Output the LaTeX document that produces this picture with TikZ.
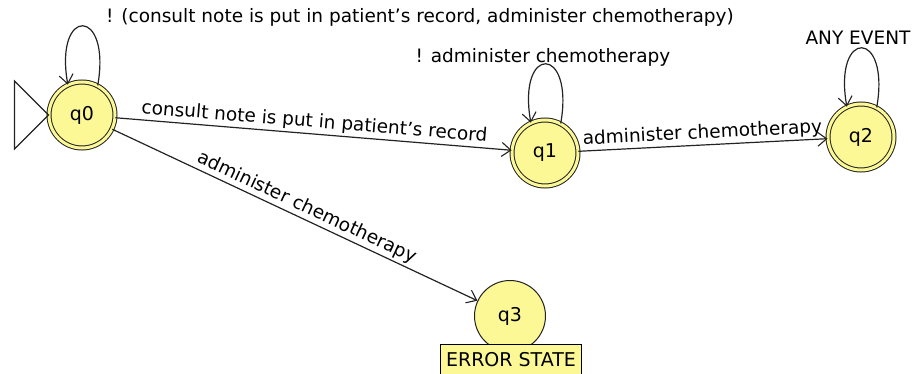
\documentclass[tikz,border=0pt]{standalone}
\usepackage{fontspec}
\setmainfont{DejaVu Sans}
\usetikzlibrary{arrows.meta}
\definecolor{stfill}{RGB}{252,248,150}
\definecolor{stline}{RGB}{35,35,35}
\tikzset{
  acc/.style={circle, draw=stline, line width=1pt, fill=stfill, double=stfill, double distance=3pt, minimum size=66pt, inner sep=0pt, font=\fontsize{19}{22}\selectfont},
  plainst/.style={circle, draw=stline, line width=1pt, fill=stfill, minimum size=71pt, inner sep=0pt, font=\fontsize{19}{22}\selectfont},
  lbl/.style={font=\fontsize{18.5}{22}\selectfont, inner sep=2pt},
  edge/.style={draw=stline, line width=1.2pt, -{Straight Barb[length=9pt,width=14pt,line width=1.1pt]}},
  errbox/.style={draw=black, line width=1pt, fill=stfill, font=\fontsize{19}{22}\selectfont, inner xsep=6pt, inner ysep=3pt, minimum height=30pt}
}
\begin{document}
\begin{tikzpicture}[x=1pt,y=-1pt]
\useasboundingbox (0,0) rectangle (919,374);
\node[acc] (q0) at (82,115) {q0};
\node[acc] (q1) at (545,153) {q1};
\node[acc] (q2) at (861,137) {q2};
\node[plainst] (q3) at (510,316) {q3};
\node[errbox, anchor=north] (err) at (511,344) {ERROR STATE};
% initial marker
\draw[stline, line width=1.1pt] (q0.west) -- ++(-34,-34) -- ++(0,68) -- cycle;
% self loops
\draw[edge] (q0.62) .. controls +(-80:80) and +(-100:80) .. (q0.115);
\draw[edge] (q1.62) .. controls +(-80:80) and +(-100:80) .. (q1.115);
\draw[edge] (q2.62) .. controls +(-80:80) and +(-100:80) .. (q2.115);
\node[lbl] (l0) at (420,17) {! (consult note is put in patient's record, administer chemotherapy)};
\node[lbl] (l1) at (543,57) {! administer chemotherapy};
\node[lbl] (l2) at (858,38) {ANY EVENT};
% transitions
\draw[edge] (q0) -- node[lbl, sloped, above, pos=0.5] (e01) {consult note is put in patient's record} (q1);
\draw[edge] (q1) -- node[lbl, sloped, above, pos=0.5] (e12) {administer chemotherapy} (q2);
\draw[edge] (q0) -- node[lbl, sloped, above, pos=0.52] (e03) {administer chemotherapy} (q3);
\end{tikzpicture}
\end{document}
